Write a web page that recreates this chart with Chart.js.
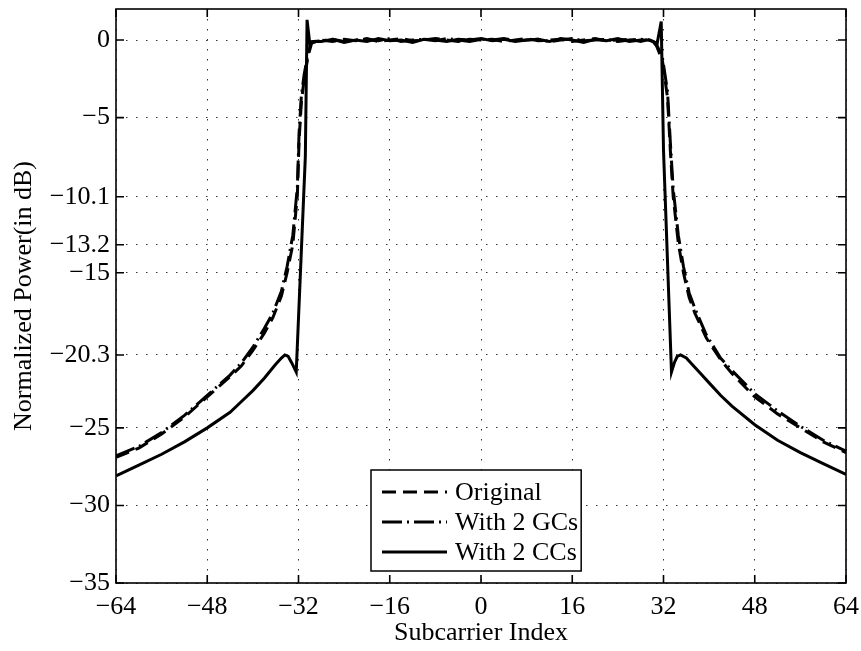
<!DOCTYPE html>
<html>
<head>
<meta charset="utf-8">
<script src="https://cdn.jsdelivr.net/npm/chart.js@4.4.1/dist/chart.umd.min.js"></script>
<style>
    html, body { margin: 0; padding: 0; background: #fff; }
</style>
</head>
<body>
<canvas id="psdChart" width="861" height="651"></canvas>
<script>
// Spectrum data (dB vs subcarrier index)

const xTicks = [-64, -48, -32, -16, 0, 16, 32, 48, 64];
const yTicks = [-35, -30, -25, -20.3, -15, -13.2, -10.1, -5, 0];

// in-band grid shared by the three curves
const bandX = [-28, -26, -24, -22, -20, -18, -16, -14, -12, -10, -8, -6, -4, -2, 0,
               2, 4, 6, 8, 10, 12, 14, 16, 18, 20, 22, 24, 26, 28];

// Original
const origLeftX  = [-64, -60, -56, -52, -48, -44, -42, -40, -38, -36.5, -35, -34, -33, -32.2, -31.9, -31.5, -31, -30.3, -29.7];
const origLeftY  = [-26.9, -26.3, -25.4, -24.3, -23.0, -21.7, -21.0, -20.0, -18.9, -17.9, -16.5, -15.0, -13.2, -10.0, -6.5, -4.0, -2.5, -1.0, -0.2];
const origBandY  = [0.0, -0.1, 0.05, -0.05, 0.1, -0.1, 0.0, 0.1, -0.05, 0.0, 0.1, 0.0, -0.1, 0.05, 0.0,
                    0.05, -0.1, 0.0, 0.1, -0.05, 0.0, 0.05, -0.1, 0.0, 0.1, -0.05, 0.0, 0.05, -0.1];
const origRightX = [29.6, 30.2, 30.8, 31.8, 32.7, 33.2, 33.7, 34.6, 35.5, 36.5, 37.5, 39.5, 42, 44, 48, 52, 56, 60, 64];
const origRightY = [0.05, -0.1, -0.4, -1.3, -3.7, -7.1, -10.1, -13.1, -15.0, -16.6, -17.6, -19.2, -20.6, -21.5, -23.0, -24.1, -25.0, -25.9, -26.6];

// With 2 GCs
const gcLeftY  = [-26.8, -26.2, -25.3, -24.2, -22.9, -21.6, -20.8, -19.8, -18.6, -17.6, -16.2, -14.6, -12.6, -9.5, -6.0, -3.6, -2.2, -0.8, -0.1];
const gcBandY  = [-0.05, 0.05, -0.1, 0.0, 0.05, -0.05, 0.1, -0.1, 0.0, 0.05, -0.05, 0.1, 0.0, -0.1, 0.05,
                  0.0, 0.1, -0.05, 0.0, 0.05, -0.1, 0.0, 0.1, -0.05, 0.0, 0.05, -0.1, 0.0, 0.05];
const gcRightY = [0.0, -0.1, -0.3, -1.1, -3.3, -6.6, -9.6, -12.6, -14.6, -16.3, -17.3, -19.0, -20.5, -21.3, -22.8, -23.9, -24.9, -25.8, -26.5];

// With 2 CCs
const ccLeftX  = [-64, -60, -56, -52, -48, -44, -42, -40, -38, -36, -35, -34.4, -33.8, -33.2, -32.4, -30.8, -30.5, -30.0, -29.4];
const ccLeftY  = [-28.1, -27.4, -26.7, -25.9, -25.0, -24.0, -23.3, -22.6, -21.8, -20.9, -20.5, -20.3, -20.4, -20.8, -21.4, -7.5, 1.3, -0.3, -0.1];
const ccBandY  = [-0.1, 0.05, -0.15, 0.0, -0.1, 0.1, -0.05, 0.0, -0.15, 0.05, 0.0, -0.1, 0.05, 0.0, 0.1,
                  -0.05, 0.05, -0.1, 0.0, 0.05, -0.1, 0.1, 0.0, -0.15, 0.05, -0.05, 0.1, -0.1, 0.0];
const ccRightX = [29.4, 30.2, 30.9, 31.6, 32.0, 33.4, 33.9, 34.4, 35.0, 36.0, 37, 38.5, 40, 42, 44, 48, 52, 56, 60, 64];
const ccRightY = [0.0, -0.1, -0.2, 1.2, -7.1, -21.4, -20.8, -20.4, -20.3, -20.5, -20.9, -21.5, -22.1, -22.9, -23.6, -24.8, -25.8, -26.6, -27.3, -28.0];

const FONT = "'Liberation Serif', 'Times New Roman', serif";

function toPoints(xs, ys) {
    return xs.map((x, i) => ({ x: x, y: ys[i] }));
}

function minusLabel(v) {
    return v < 0 ? '\u2212' + Math.abs(v) : String(v);
}

// axis box with inward ticks, MATLAB style
const boxPlugin = {
    id: 'axisBox',
    afterDatasetsDraw(chart) {
        const ctx = chart.ctx;
        const a = chart.chartArea;
        const xs = chart.scales.x, ys = chart.scales.y;
        const len = 8;
        ctx.save();
        ctx.strokeStyle = '#000';
        ctx.lineWidth = 1.6;
        ctx.setLineDash([]);
        ctx.strokeRect(a.left, a.top, a.right - a.left, a.bottom - a.top);
        ctx.beginPath();
        xTicks.forEach(v => {
            const p = xs.getPixelForValue(v);
            ctx.moveTo(p, a.bottom); ctx.lineTo(p, a.bottom - len);
            ctx.moveTo(p, a.top); ctx.lineTo(p, a.top + len);
        });
        yTicks.forEach(v => {
            const p = ys.getPixelForValue(v);
            ctx.moveTo(a.left, p); ctx.lineTo(a.left + len, p);
            ctx.moveTo(a.right, p); ctx.lineTo(a.right - len, p);
        });
        ctx.stroke();
        ctx.restore();
    }
};

// legend box inside the plot
const legendPlugin = {
    id: 'boxLegend',
    afterDraw(chart) {
        const ctx = chart.ctx;
        const sets = chart.data.datasets;
        const x0 = 371, y0 = 470, rowH = 30, lineLen = 65, pad = 11, gap = 8;
        ctx.save();
        ctx.font = '26px ' + FONT;
        const textW = Math.max(...sets.map(d => ctx.measureText(d.label).width));
        const w = pad + lineLen + gap + textW + 3;
        const h = 101;
        ctx.fillStyle = '#fff';
        ctx.fillRect(x0, y0, w, h);
        ctx.strokeStyle = '#000';
        ctx.lineWidth = 1.5;
        ctx.strokeRect(x0, y0, w, h);
        sets.forEach((d, i) => {
            const y = y0 + 22 + i * rowH;
            ctx.beginPath();
            ctx.setLineDash(d.borderDash || []);
            ctx.lineWidth = d.borderWidth;
            ctx.moveTo(x0 + pad, y);
            ctx.lineTo(x0 + pad + lineLen, y);
            ctx.stroke();
            ctx.setLineDash([]);
            ctx.fillStyle = '#000';
            ctx.textBaseline = 'middle';
            ctx.textAlign = 'left';
            ctx.fillText(d.label, x0 + pad + lineLen + gap, y + 1);
        });
        ctx.restore();
    }
};

Chart.defaults.font.family = FONT;
Chart.defaults.font.size = 26;
Chart.defaults.color = '#000';

new Chart(document.getElementById('psdChart').getContext('2d'), {
    type: 'line',
    data: {
        datasets: [
            {
                label: 'Original',
                data: toPoints([...origLeftX, ...bandX, ...origRightX], [...origLeftY, ...origBandY, ...origRightY]),
                borderColor: '#000',
                borderWidth: 3,
                borderDash: [14, 7],
                pointRadius: 0,
                fill: false
            },
            {
                label: 'With 2 GCs',
                data: toPoints([...origLeftX, ...bandX, ...origRightX], [...gcLeftY, ...gcBandY, ...gcRightY]),
                borderColor: '#000',
                borderWidth: 3,
                borderDash: [20, 5, 2, 5],
                pointRadius: 0,
                fill: false
            },
            {
                label: 'With 2 CCs',
                data: toPoints([...ccLeftX, ...bandX, ...ccRightX], [...ccLeftY, ...ccBandY, ...ccRightY]),
                borderColor: '#000',
                borderWidth: 3,
                pointRadius: 0,
                fill: false
            }
        ]
    },
    options: {
        responsive: false,
        animation: false,
        layout: { padding: { top: 9, right: 15, bottom: 0, left: 0 } },
        plugins: {
            legend: { display: false },
            tooltip: { enabled: false }
        },
        scales: {
            x: {
                type: 'linear',
                min: -64,
                max: 64,
                border: { display: false, dash: [1.5, 8.5] },
                grid: { color: '#333', lineWidth: 1, drawTicks: false },
                ticks: {
                    stepSize: 16,
                    padding: 9,
                    autoSkip: false,
                    maxRotation: 0,
                    callback: v => minusLabel(v)
                },
                title: { display: true, text: 'Subcarrier Index', padding: { top: 0, bottom: 2 } },
                afterBuildTicks: s => { s.ticks = xTicks.map(v => ({ value: v })); },
                afterFit: s => { s.height = 68; s.paddingLeft = 0; s.paddingRight = 0; }
            },
            y: {
                type: 'linear',
                min: -35,
                max: 2,
                border: { display: false, dash: [1.5, 8.5] },
                grid: { color: '#333', lineWidth: 1, drawTicks: false },
                ticks: {
                    padding: 6,
                    autoSkip: false,
                    callback: v => minusLabel(v)
                },
                title: { display: true, text: 'Normalized Power(in dB)', padding: { top: 9, bottom: 0 } },
                afterBuildTicks: s => { s.ticks = yTicks.map(v => ({ value: v })); },
                afterFit: s => { s.width = 116; s.paddingTop = 0; s.paddingBottom = 0; }
            }
        }
    },
    plugins: [boxPlugin, legendPlugin]
});
</script>
</body>
</html>
